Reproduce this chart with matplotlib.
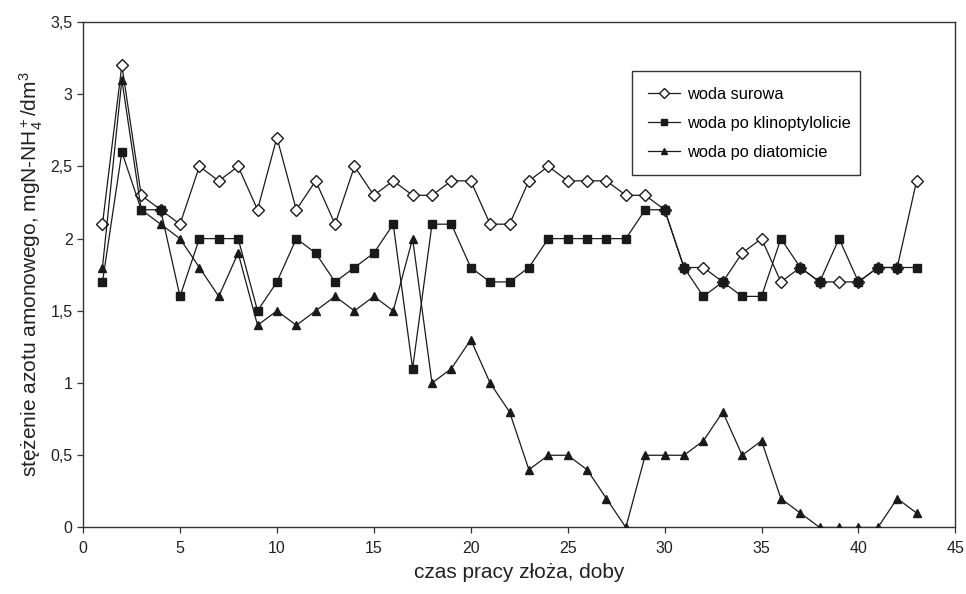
import matplotlib
matplotlib.use("Agg")
import matplotlib.pyplot as plt
from matplotlib.ticker import FuncFormatter, MultipleLocator

plt.rcParams['font.family'] = ['Liberation Sans', 'DejaVu Sans']
plt.rcParams['mathtext.fontset'] = 'custom'
plt.rcParams['mathtext.rm'] = 'Liberation Sans'
plt.rcParams['mathtext.it'] = 'Liberation Sans'

# doby
days = list(range(1, 44))

surowa = [2.1, 3.2, 2.3, 2.2, 2.1, 2.5, 2.4, 2.5, 2.2, 2.7,
          2.2, 2.4, 2.1, 2.5, 2.3, 2.4, 2.3, 2.3, 2.4, 2.4,
          2.1, 2.1, 2.4, 2.5, 2.4, 2.4, 2.4, 2.3, 2.3, 2.2,
          1.8, 1.8, 1.7, 1.9, 2.0, 1.7, 1.8, 1.7, 1.7, 1.7,
          1.8, 1.8, 2.4]

klinoptylolit = [1.7, 2.6, 2.2, 2.2, 1.6, 2.0, 2.0, 2.0, 1.5, 1.7,
                 2.0, 1.9, 1.7, 1.8, 1.9, 2.1, 1.1, 2.1, 2.1, 1.8,
                 1.7, 1.7, 1.8, 2.0, 2.0, 2.0, 2.0, 2.0, 2.2, 2.2,
                 1.8, 1.6, 1.7, 1.6, 1.6, 2.0, 1.8, 1.7, 2.0, 1.7,
                 1.8, 1.8, 1.8]

diatomit = [1.8, 3.1, 2.2, 2.1, 2.0, 1.8, 1.6, 1.9, 1.4, 1.5,
            1.4, 1.5, 1.6, 1.5, 1.6, 1.5, 2.0, 1.0, 1.1, 1.3,
            1.0, 0.8, 0.4, 0.5, 0.5, 0.4, 0.2, 0.0, 0.5, 0.5,
            0.5, 0.6, 0.8, 0.5, 0.6, 0.2, 0.1, 0.0, 0.0, 0.0,
            0.0, 0.2, 0.1]

labels = ["woda surowa", "woda po klinoptylolicie", "woda po diatomicie"]

fig = plt.figure(figsize=(9.66, 5.94), dpi=100)
ax = fig.add_axes([0.086, 0.112, 0.903, 0.851])

c = "#1a1a1a"
ax.plot(days, surowa, '-', color=c, lw=0.9, marker='D', ms=6.5,
        mfc='white', mec=c, mew=1.0, label=labels[0], zorder=3)
ax.plot(days, klinoptylolit, '-', color=c, lw=0.9, marker='s', ms=5.8,
        mfc=c, mec=c, label=labels[1], zorder=4)
ax.plot(days, diatomit, '-', color=c, lw=0.9, marker='^', ms=6.3,
        mfc=c, mec=c, label=labels[2], zorder=5)

ax.set_xlim(0, 45)
ax.set_ylim(0, 3.5)
ax.xaxis.set_major_locator(MultipleLocator(5))
ax.yaxis.set_major_locator(MultipleLocator(0.5))
ax.yaxis.set_major_formatter(FuncFormatter(lambda v, p: ("%g" % v).replace(".", ",")))
ax.tick_params(direction='out', length=4, width=0.9, labelsize=11.5,
               colors='#333333', labelcolor='#222222')
ax.tick_params(axis='x', pad=6)
for s in ax.spines.values():
    s.set_linewidth(1.0)
    s.set_color('#333333')

ax.set_xlabel("czas pracy złoża, doby", fontsize=15, color='#222222', labelpad=5)
ax.set_ylabel(r"stężenie azotu amonowego, mgN-NH$_4^+$/dm$^3$", fontsize=15,
              color='#222222', labelpad=4)

leg = ax.legend(loc='upper left', bbox_to_anchor=(0.62, 0.919, 0.28, 0.0),
                mode='expand', fancybox=False, framealpha=1, edgecolor='#333333',
                fontsize=11.8, handlelength=2.0, labelspacing=0.85,
                borderpad=0.95, handletextpad=0.4, markerscale=0.75)
leg.get_frame().set_linewidth(1.0)

fig.savefig("out.png", dpi=100)
